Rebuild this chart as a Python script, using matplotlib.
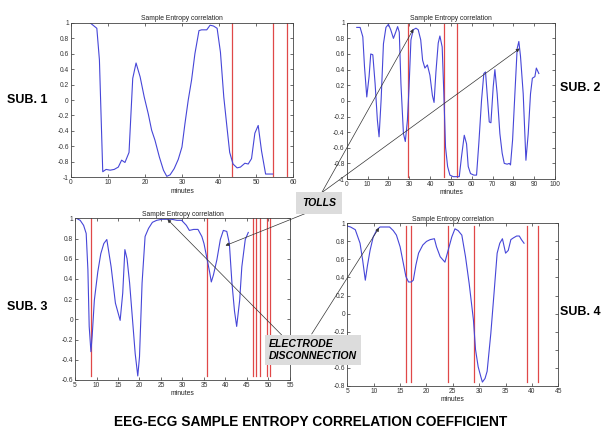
import matplotlib
matplotlib.use("Agg")
import matplotlib.pyplot as plt

plt.rcParams['font.family'] = ['Liberation Sans', 'DejaVu Sans']

# ---- data ----
s1_x = [5.2, 7, 7.7, 8.6, 9.5, 10.6, 11.7, 12.8, 13.7, 14.6, 15.7, 16.7, 17.6, 18.7, 19.8, 20.9, 21.8, 22.7,
        23.9, 25, 25.9, 26.8, 27.9, 29, 30, 30.8, 31.7, 32.6, 33.5, 34.6, 35.3, 36.7, 37.6, 38.5, 39.5, 40.4,
        41.3, 42.2, 42.9, 43.8, 44.9, 45.8, 47, 47.9, 48.8, 49.7, 50.6, 51.5, 52.6, 54.5]
s1_y = [1.0, 0.93, 0.52, -0.93, -0.9, -0.91, -0.9, -0.87, -0.78, -0.81, -0.68, 0.28, 0.48, 0.3, 0.04, -0.18,
        -0.39, -0.52, -0.74, -0.91, -0.99, -0.97, -0.89, -0.77, -0.61, -0.31, 0.0, 0.26, 0.6, 0.9, 0.91, 0.91,
        0.97, 0.96, 0.93, 0.62, 0.04, -0.37, -0.68, -0.83, -0.88, -0.87, -0.82, -0.83, -0.76, -0.43, -0.33,
        -0.66, -0.96, -0.96]
s1_marks = [43.4, 54.6, 58.4]

s2_x = [4.8, 6.4, 7.7, 8.5, 9.6, 10.7, 11.5, 12.5, 13.6, 14.7, 15.5, 16.5, 17.6, 18.8, 20, 21.1, 22.4, 23.5,
        24.4, 25.2, 26, 27.2, 28.1, 29.1, 29.9, 30.8, 31.9, 33.2, 34.3, 35.5, 36.4, 37.5, 38.7, 39.9, 41.1,
        41.9, 42.8, 43.9, 44.7, 45.8, 46.6, 47.4, 48.4, 49.5, 51.1, 52.7, 54, 55.1, 56.4, 57.5, 58.3, 59.4,
        61, 62.3, 63.4, 64.7, 65.8, 66.6, 67.6, 68.4, 69.2, 70.3, 71.1, 72.2, 73.5, 74.6, 75.6, 77, 78, 78.6,
        79.6, 80.7, 81.8, 82.6, 83.4, 84.7, 86, 87.1, 88.2, 89.1, 90.3, 91, 92.2]
s2_y = [0.94, 0.94, 0.82, 0.44, 0.05, 0.31, 0.6, 0.59, 0.22, -0.25, -0.46, 0.02, 0.73, 0.94, 0.98, 0.91, 0.8,
        0.88, 0.95, 0.88, 0.22, -0.42, -0.52, -0.25, 0.18, 0.78, 0.91, 0.93, 0.91, 0.78, 0.52, 0.42, 0.46,
        0.33, 0.07, -0.02, 0.37, 0.74, 0.83, 0.69, 0.09, -0.59, -0.84, -0.95, -0.97, -0.97, -0.97, -0.71,
        -0.44, -0.55, -0.84, -0.93, -0.95, -0.95, -0.54, 0.01, 0.35, 0.37, 0.01, -0.27, -0.28, 0.18, 0.4,
        0.09, -0.42, -0.67, -0.8, -0.81, -0.8, -0.82, -0.5, 0.09, 0.67, 0.76, 0.57, 0.09, -0.76, -0.42, 0.09,
        0.29, 0.31, 0.42, 0.35]
s2_marks = [29.6, 46.8, 53.0]

s3_x = [5.3, 6.2, 7, 7.6, 8, 8.3, 8.7, 9, 9.5, 10.3, 11, 11.7, 12.4, 13.4, 14.4, 15.5, 16.1, 16.6, 17.1, 17.7,
        18.5, 19, 19.6, 20, 20.6, 21.3, 22.1, 23, 24, 25.2, 26.4, 27.5, 28.7, 29.8, 30.9, 31.6, 32.6, 33.6,
        34.5, 35, 35.7, 36.3, 36.7, 37.2, 38, 38.8, 39.5, 40.3, 40.9, 41.5, 42.1, 42.6, 43.3, 43.8, 44.6, 45.3]
s3_y = [1.0, 0.98, 0.93, 0.85, 0.49, -0.07, -0.32, -0.16, 0.19, 0.47, 0.65, 0.75, 0.79, 0.52, 0.16, -0.01,
        0.26, 0.69, 0.6, 0.36, -0.07, -0.34, -0.56, -0.37, 0.36, 0.82, 0.9, 0.96, 0.98, 0.99, 0.99, 0.99, 0.98,
        0.98, 0.93, 0.88, 0.89, 0.89, 0.82, 0.75, 0.6, 0.47, 0.37, 0.44, 0.59, 0.79, 0.88, 0.87, 0.75, 0.36,
        0.08, -0.07, 0.19, 0.52, 0.79, 0.86]
s3_marks = [8.8, 35.6, 46.3, 47.1, 48.1, 49.6, 50.4]

s4_x = [5, 5.6, 6.5, 7.4, 7.9, 8.4, 8.8, 9.3, 9.9, 10.6, 11.2, 12.1, 13.0, 13.7, 14.3, 15, 15.6, 16.1, 16.6,
        17.1, 17.5, 18, 18.5, 19.3, 20, 20.7, 21.5, 21.9, 22.6, 23.5, 24.1, 24.8, 25.4, 26, 26.7, 27.4, 28.1,
        28.9, 29.3, 29.8, 30.3, 30.6, 31.1, 31.5, 32.2, 32.8, 33.4, 33.9, 34.4, 35, 35.5, 36, 36.5, 37.1,
        37.6, 38, 38.5]
s4_y = [0.97, 0.96, 0.93, 0.78, 0.59, 0.37, 0.53, 0.7, 0.85, 0.93, 0.96, 0.96, 0.96, 0.92, 0.87, 0.74, 0.56,
        0.41, 0.35, 0.35, 0.37, 0.54, 0.67, 0.76, 0.8, 0.82, 0.83, 0.74, 0.63, 0.57, 0.7, 0.85, 0.94, 0.92,
        0.87, 0.63, 0.33, -0.07, -0.4, -0.59, -0.7, -0.76, -0.72, -0.64, -0.22, 0.22, 0.67, 0.78, 0.83, 0.67,
        0.7, 0.82, 0.84, 0.86, 0.86, 0.82, 0.78]
s4_marks = [16.2, 17.1, 24.1, 29.1, 39.1, 41.1]

sub_labels = ["SUB. 1", "SUB. 2", "SUB. 3", "SUB. 4"]
panel_title = "Sample Entropy correlation"
main_title = "EEG-ECG SAMPLE ENTROPY CORRELATION COEFFICIENT"

BLUE = '#4646d8'
RED = '#e04848'

fig = plt.figure(figsize=(6.01, 4.32), dpi=100)
fig.patch.set_facecolor('white')

def panel(rect, xs, ys, marks, xlim, ylim, xticks, yticks):
    ax = fig.add_axes(rect)
    lo, hi = min(ys), max(ys)
    for m in marks:
        ax.plot([m, m], [lo, hi], color=RED, lw=0.9)
    ax.plot(xs, ys, color=BLUE, lw=0.8)
    ax.set_xlim(*xlim)
    ax.set_ylim(*ylim)
    ax.set_xticks(xticks)
    ax.set_yticks(yticks)
    ax.set_xticklabels([f"{t:g}" for t in xticks])
    ax.set_yticklabels([f"{t:g}" for t in yticks])
    ax.tick_params(direction='in', length=2, width=0.5, labelsize=4.8, pad=1.5,
                   top=True, right=True, colors='#333333')
    for s in ax.spines.values():
        s.set_linewidth(0.6)
        s.set_color('#444444')
    ax.set_title(panel_title, fontsize=4.9, pad=2, color='#222222')
    ax.set_xlabel("minutes", fontsize=4.9, labelpad=1, color='#222222')
    return ax

ax1 = panel([0.118, 0.590, 0.3695, 0.357], s1_x, s1_y, s1_marks, (0, 60), (-1, 1),
            [0, 10, 20, 30, 40, 50, 60], [-1, -0.8, -0.6, -0.4, -0.2, 0, 0.2, 0.4, 0.6, 0.8, 1])
ax2 = panel([0.577, 0.5856, 0.3466, 0.3618], s2_x, s2_y, s2_marks, (0, 100), (-1, 1),
            list(range(0, 101, 10)), [-1, -0.8, -0.6, -0.4, -0.2, 0, 0.2, 0.4, 0.6, 0.8, 1])
ax3 = panel([0.1248, 0.1204, 0.3577, 0.3743], s3_x, s3_y, s3_marks, (5, 55), (-0.6, 1),
            list(range(5, 56, 5)), [-0.6, -0.4, -0.2, 0, 0.2, 0.4, 0.6, 0.8, 1])
ax4 = panel([0.578, 0.1072, 0.351, 0.3757], s4_x, s4_y, s4_marks, (5, 45), (-0.8, 1),
            list(range(5, 46, 5)), [-0.8, -0.6, -0.4, -0.2, 0, 0.2, 0.4, 0.6, 0.8, 1])

lab_kw = dict(fontsize=9, fontweight='bold', va='center', ha='center')
fig.text(27.5 / 601, 1 - 100 / 432, sub_labels[0], **lab_kw)
fig.text(580.5 / 601, 1 - 88 / 432, sub_labels[1], **lab_kw)
fig.text(27.5 / 601, 1 - 307 / 432, sub_labels[2], **lab_kw)
fig.text(580.5 / 601, 1 - 312 / 432, sub_labels[3], **lab_kw)

fig.text(311 / 601, 1 - 422 / 432, main_title, ha='center', va='center', fontsize=9.9, fontweight='bold')

# annotation boxes
fig.text(319 / 601, 1 - 203 / 432, "TOLLS", ha='center', va='center', fontsize=7.6,
         fontweight='bold', fontstyle='italic',
         bbox=dict(boxstyle='square,pad=0.6', facecolor='#dcdcdc', edgecolor='none'))
fig.text(269 / 601, 1 - 350 / 432, "ELECTRODE\nDISCONNECTION", ha='left', va='center', fontsize=7.6,
         fontweight='bold', fontstyle='italic', linespacing=1.15,
         bbox=dict(boxstyle='square,pad=0.4', facecolor='#dcdcdc', edgecolor='none'))

arrow = dict(arrowstyle='-|>', color='#333333', lw=0.5, mutation_scale=5, shrinkA=0, shrinkB=0)

def link(ax, xy, start_px):
    ax.annotate('', xy=xy, xycoords='data', xytext=(start_px[0], 432 - start_px[1]),
                textcoords='figure pixels', arrowprops=arrow, annotation_clip=False)

link(ax2, (32, 0.92), (321.7, 192.7))
link(ax2, (83, 0.67), (321.7, 192.7))
link(ax3, (40, 0.73), (306.7, 213))
link(ax3, (26.5, 0.99), (281.7, 335))
link(ax4, (11, 0.95), (311.7, 334))

fig.savefig("out.png", dpi=100, facecolor='white')
